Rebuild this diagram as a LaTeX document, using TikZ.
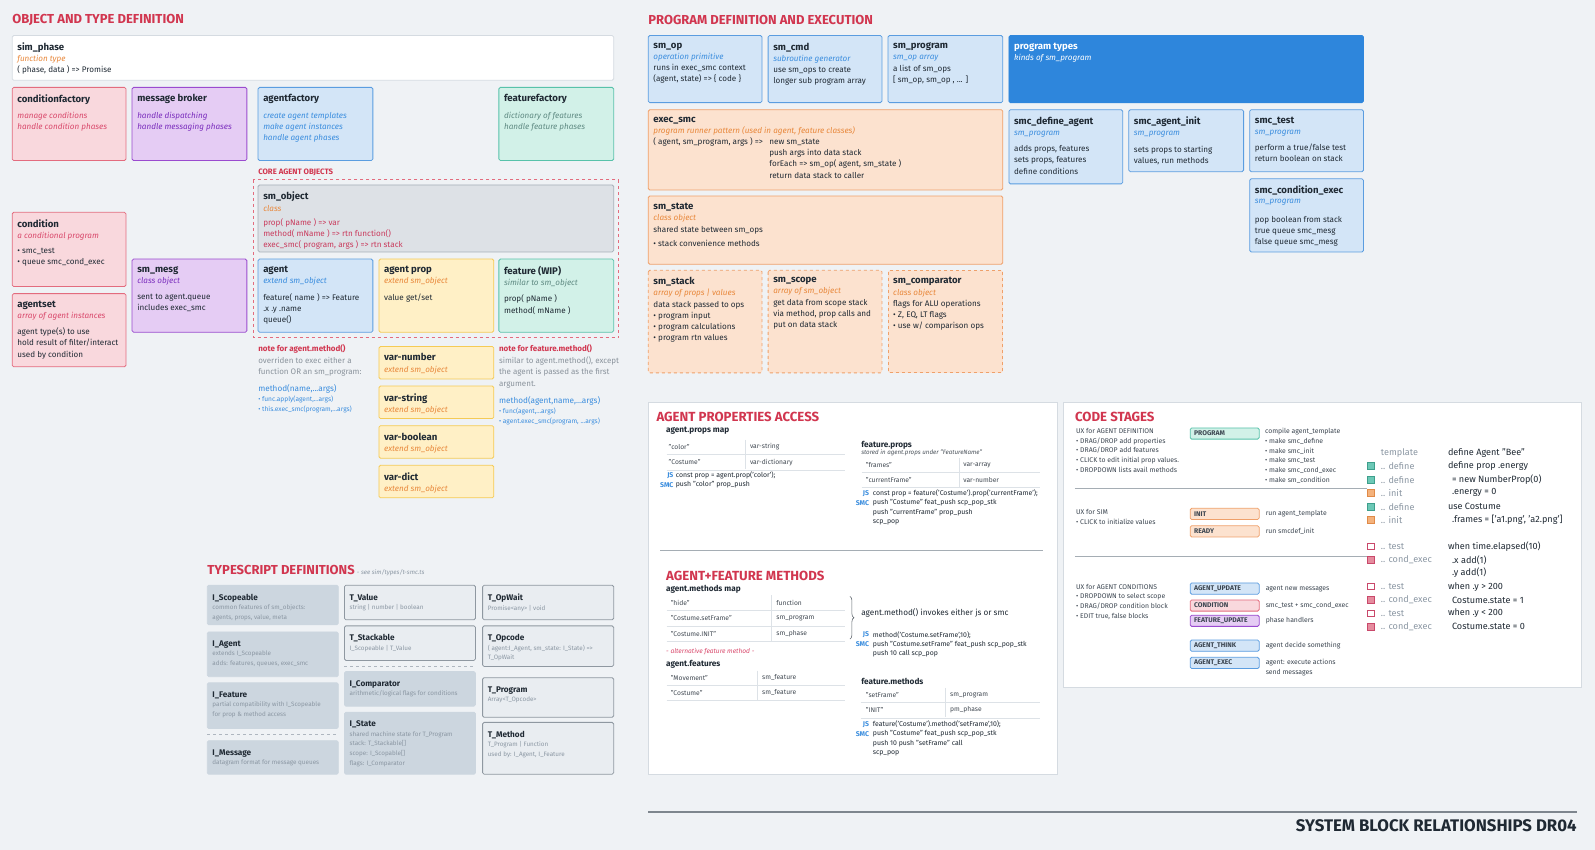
\documentclass[tikz,border=0pt]{standalone}
\usepackage{fontspec}
\setmainfont{Fira Sans}
\usetikzlibrary{positioning,decorations.pathreplacing}

\definecolor{bg}{HTML}{EFF2F5}
\definecolor{ink}{HTML}{1F2933}
\definecolor{titlered}{HTML}{D1364F}
\definecolor{pinkfill}{HTML}{F9D8DD}
\definecolor{pinkline}{HTML}{E36C7E}
\definecolor{pinksub}{HTML}{D9486B}
\definecolor{purplefill}{HTML}{E5CCF4}
\definecolor{purpleline}{HTML}{9A4BCF}
\definecolor{purplesub}{HTML}{7A2DBD}
\definecolor{bluefill}{HTML}{D3E5F7}
\definecolor{blueline}{HTML}{5B9DE0}
\definecolor{bluesub}{HTML}{3A8DDE}
\definecolor{tealfill}{HTML}{D2F1E8}
\definecolor{tealline}{HTML}{58C2AA}
\definecolor{tealsub}{HTML}{5F8A82}
\definecolor{yellowfill}{HTML}{FFF0C6}
\definecolor{yellowline}{HTML}{F5CB55}
\definecolor{orangefill}{HTML}{FCE2CF}
\definecolor{orangeline}{HTML}{EFA06A}
\definecolor{orangesub}{HTML}{E8873A}
\definecolor{greyfill}{HTML}{DDE1E6}
\definecolor{greyline}{HTML}{A7AFB8}
\definecolor{redbody}{HTML}{C93A5C}
\definecolor{progblue}{HTML}{2E86DC}
\definecolor{tsfill}{HTML}{CCD6DF}
\definecolor{tslite}{HTML}{E9EDF1}
\definecolor{tsline}{HTML}{8F98A1}
\definecolor{tsgrey}{HTML}{8B97A3}
\definecolor{notegrey}{HTML}{8A939C}
\definecolor{panelline}{HTML}{D5DBE1}
\definecolor{ruleink}{HTML}{7E868E}
\definecolor{stageink}{HTML}{3B4550}
\definecolor{sqdeffill}{HTML}{6CC8B6}
\definecolor{sqdefline}{HTML}{3E9F8C}
\definecolor{sqinitfill}{HTML}{F4B27C}
\definecolor{sqinitline}{HTML}{E08A48}
\definecolor{sqexecfill}{HTML}{E58C9E}
\definecolor{sqexecline}{HTML}{C9486A}

\tikzset{
  box/.style={draw, line width=0.8pt, rounded corners=1.5pt},
  whitebox/.style={box, draw=panelline, fill=white},
  pinkbox/.style={box, draw=pinkline, fill=pinkfill},
  purplebox/.style={box, draw=purpleline, fill=purplefill},
  bluebox/.style={box, draw=blueline, fill=bluefill},
  tealbox/.style={box, draw=tealline, fill=tealfill},
  yellowbox/.style={box, draw=yellowline, fill=yellowfill},
  orangebox/.style={box, draw=orangeline, fill=orangefill},
  orangedash/.style={orangebox, dashed},
  greybox/.style={box, draw=greyline, fill=greyfill},
  progbox/.style={box, draw=progblue, fill=progblue},
  tsfillbox/.style={box, draw=tsfill, fill=tsfill},
  tslinebox/.style={box, draw=tsline, fill=tslite},
  panel/.style={draw=panelline, fill=white, line width=0.8pt},
  cardtext/.style={inner sep=0pt, align=left, text=ink, font=\fontsize{8.1}{11.2}\selectfont},
  tstext/.style={inner sep=0pt, align=left, text=tsgrey, yshift=-1.5pt, font=\fontsize{6.3}{9.6}\selectfont},
  notetext/.style={inner sep=0pt, align=left, text=notegrey, font=\fontsize{8}{11.7}\selectfont},
  sectitle/.style={inner sep=0pt, anchor=west, text=titlered, font=\fontsize{13}{15}\selectfont\bfseries},
  paneltitle/.style={inner sep=0pt, anchor=west, text=titlered, font=\fontsize{13.2}{15}\selectfont\bfseries},
  coretag/.style={inner sep=0pt, anchor=west, text=titlered, font=\fontsize{7.8}{9}\selectfont\bfseries},
  coredash/.style={draw=pinkline, dashed, line width=0.8pt},
  tsdash/.style={draw=tsgrey!70, dashed, line width=0.8pt},
  tabhead/.style={inner sep=0pt, anchor=west, text=ink, font=\fontsize{8.2}{10}\selectfont\bfseries},
  cell/.style={inner sep=0pt, anchor=west, text=ink!85, font=\fontsize{6.7}{8}\selectfont},
  cellnote/.style={inner sep=0pt, anchor=west, text=ink!80, font=\fontsize{6.2}{7}\selectfont\itshape},
  tabrule/.style={draw=panelline!80, line width=0.6pt},
  code/.style={inner sep=0pt, anchor=west, text=ink, font=\fontsize{6.9}{8}\selectfont},
  jstag/.style={inner sep=0pt, anchor=east, text=bluesub, font=\fontsize{6.9}{8}\selectfont\bfseries},
  seprule/.style={draw=tsline!80, line width=0.9pt},
  stage/.style={draw, line width=0.8pt, rounded corners=1.5pt, anchor=west, minimum height=11.2pt,
    text width=61pt, inner xsep=4pt, inner ysep=0pt, align=left, text=stageink,
    font=\fontsize{6.8}{7}\selectfont\bfseries},
  stagetxt/.style={inner sep=0pt, align=left, text=stageink, font=\fontsize{6.85}{9.7}\selectfont},
  legsq/.style={draw, line width=0.8pt, minimum size=6.5pt, inner sep=0pt},
  legkey/.style={inner sep=0pt, anchor=west, text=tsgrey, font=\fontsize{9.1}{10}\selectfont},
  legcode/.style={inner sep=0pt, anchor=west, text=ink, font=\fontsize{9.1}{10}\selectfont},
  bracedraw/.style={draw=ink!70, line width=0.6pt, decorate, decoration={brace, amplitude=4pt}},
  bottomrule/.style={draw=ruleink, line width=1.6pt},
  bigtitle/.style={inner sep=0pt, anchor=east, text=ink, font=\fontsize{16.8}{18}\selectfont\bfseries}
}

\newcommand{\ttl}[1]{{\fontsize{9.6}{11.2}\selectfont\bfseries #1}}
\newcommand{\tsttl}[1]{{\fontsize{8.2}{9.6}\selectfont\bfseries\color{ink}#1}}
\newcommand{\subt}[2]{{\color{#1}\itshape #2}}
\newcommand{\card}[8]{%
  \draw[#2] (#4,#5) rectangle ++(#6,#7);
  \coordinate (#1) at (#4,#5);
  \node[#3, anchor=north west] (#1-txt) at ([xshift=5pt,yshift=-7pt]#1) {#8};
}

\begin{document}
\begin{tikzpicture}[x=1.016pt, y=-1.016pt]
  \useasboundingbox (0pt,0pt) rectangle (1595pt,-850pt);
  \fill[bg] (0pt,0pt) rectangle (1595pt,-850pt);

  % object and type definition
  \node[sectitle] (objtitle) at (12,20) {OBJECT AND TYPE DEFINITION};
  \card{simphase}{whitebox}{cardtext}{12}{35}{592}{44}{\ttl{sim\_phase}\\ \subt{orangesub}{function type}\\ ( phase, data ) => Promise}
  \card{condfactory}{pinkbox}{cardtext}{12}{86}{112}{72}{\ttl{conditionfactory}\\[5pt] \subt{pinksub}{manage conditions}\\ \subt{pinksub}{handle condition phases}}
  \card{msgbroker}{purplebox}{cardtext}{130}{86}{113}{72}{\ttl{message broker}\\[5pt] \subt{purplesub}{handle dispatching}\\ \subt{purplesub}{handle messaging phases}}
  \card{agentfactory}{bluebox}{cardtext}{254}{86}{113}{72}{\ttl{agentfactory}\\[5pt] \subt{bluesub}{create agent templates}\\ \subt{bluesub}{make agent instances}\\ \subt{bluesub}{handle agent phases}}
  \card{featfactory}{tealbox}{cardtext}{491}{86}{113}{72}{\ttl{featurefactory}\\[5pt] \subt{tealsub}{dictionary of features}\\ \subt{tealsub}{handle feature phases}}

  \node[coretag] (coretag) at (254,170) {CORE AGENT OBJECTS};
  \draw[coredash] (249,177) rectangle (609,332);
  \card{smobject}{greybox}{cardtext}{254}{182}{350}{66}{\ttl{sm\_object}\\ \subt{orangesub}{class}\\[3pt] \textcolor{redbody}{prop( pName ) => var}\\ \textcolor{redbody}{method( mName ) => rtn function()}\\ \textcolor{redbody}{exec\_smc( program, args ) => rtn stack}}
  \card{agent}{bluebox}{cardtext}{254}{255}{113}{72}{\ttl{agent}\\ \subt{bluesub}{extend sm\_object}\\[5pt] feature( name ) => Feature\\ .x .y .name\\ queue()}
  \card{agentprop}{yellowbox}{cardtext}{373}{255}{113}{72}{\ttl{agent prop}\\ \subt{orangesub}{extend sm\_object}\\[5pt] value get/set}
  \card{feature}{tealbox}{cardtext}{491}{255}{113}{72}{\ttl{feature (WIP)}\\ \subt{tealsub}{similar to sm\_object}\\[5pt] prop( pName )\\ method( mName )}
  \card{condition}{pinkbox}{cardtext}{12}{209}{112}{73}{\ttl{condition}\\ \subt{pinksub}{a conditional program}\\[4pt] • smc\_test\\ • queue smc\_cond\_exec}
  \card{agentset}{pinkbox}{cardtext}{12}{289}{112}{72}{\ttl{agentset}\\ \subt{pinksub}{array of agent instances}\\[5pt] agent type(s) to use\\ hold result of filter/interact\\ used by condition}
  \card{smmesg}{purplebox}{cardtext}{130}{255}{113}{72}{\ttl{sm\_mesg}\\ \subt{purplesub}{class object}\\[5pt] sent to agent.queue\\ includes exec\_smc}

  \node[notetext, anchor=north west] (agentnote) at (254,339) {\textcolor{titlered}{\bfseries note for agent.method()}\\ overriden to exec either a\\ function OR an sm\_program:\\[5pt] \textcolor{bluesub}{\fontsize{8.2}{10}\selectfont method(name,...args)}\\[-1.7pt] \textcolor{bluesub}{\fontsize{6.6}{8}\selectfont • func.apply(agent,...args)}\\[-1.7pt] \textcolor{bluesub}{\fontsize{6.6}{8}\selectfont • this.exec\_smc(program,...args)}};
  \foreach \v/\y in {number/341,string/380,boolean/419,dict/458} {
    \card{var\v}{yellowbox}{cardtext}{373}{\y}{113}{32}{\ttl{var-\v}\\ \subt{orangesub}{extend sm\_object}}
  }
  \node[notetext, anchor=north west] (featnote) at (491,339) {\textcolor{titlered}{\bfseries note for feature.method()}\\ similar to agent.method(), except\\ the agent is passed as the first\\ argument.\\[5pt] \textcolor{bluesub}{\fontsize{8.2}{10}\selectfont method(agent,name,...args)}\\[-1.7pt] \textcolor{bluesub}{\fontsize{6.6}{8}\selectfont • func(agent,...args)}\\[-1.7pt] \textcolor{bluesub}{\fontsize{6.6}{8}\selectfont • agent.exec\_smc(program, ...args)}};

  % typescript definitions
  \node[sectitle] (tstitle) at (204,562) {TYPESCRIPT DEFINITIONS\,{\fontsize{6.2}{7}\selectfont\mdseries\itshape\color{tsgrey}- see sim/types/t-smc.ts}};
  \card{iscopeable}{tsfillbox}{tstext}{204}{576}{129}{39}{\tsttl{I\_Scopeable}\\ common features of sm\_objects:\\ agents, props, value, meta}
  \card{iagent}{tsfillbox}{tstext}{204}{622}{129}{44}{\tsttl{I\_Agent}\\ extends I\_Scopeable\\ adds: features, queues, exec\_smc}
  \card{ifeature}{tsfillbox}{tstext}{204}{672}{129}{45}{\tsttl{I\_Feature}\\ partial compatibility with I\_Scopeable\\ for prop \& method access}
  \draw[tsdash] (204,722.5) -- (333,722.5);
  \card{imessage}{tsfillbox}{tstext}{204}{729}{129}{33}{\tsttl{I\_Message}\\ datagram format for message queues}
  \card{tvalue}{tslinebox}{tstext}{339}{576}{129}{34}{\tsttl{T\_Value}\\ string | number | boolean}
  \card{tstackable}{tslinebox}{tstext}{339}{616}{129}{34}{\tsttl{T\_Stackable}\\ I\_Scopeable | T\_Value}
  \draw[tsdash] (339,655.5) -- (468,655.5);
  \card{icomparator}{tsfillbox}{tstext}{339}{661}{129}{34}{\tsttl{I\_Comparator}\\ arithmetic/logical flags for conditions}
  \card{istate}{tsfillbox}{tstext}{339}{701}{129}{61}{\tsttl{I\_State}\\ shared machine state for T\_Program\\ stack: T\_Stackable[]\\ scope: I\_Scopable[]\\ flags: I\_Comparator}
  \card{topwait}{tslinebox}{tstext}{475}{576}{129}{34}{\tsttl{T\_OpWait}\\ Promise<any> | void}
  \card{topcode}{tslinebox}{tstext}{475}{616}{129}{40}{\tsttl{T\_Opcode}\\ ( agent:I\_Agent, sm\_state: I\_State) =>\\ T\_OpWait}
  \card{tprogram}{tslinebox}{tstext}{475}{667}{129}{39}{\tsttl{T\_Program}\\ Array<T\_Opcode>}
  \card{tmethod}{tslinebox}{tstext}{475}{711}{129}{51}{\tsttl{T\_Method}\\ T\_Program | Function\\ used by: I\_Agent, I\_Feature}

  % program definition and execution
  \node[sectitle] (progtitle) at (638,20) {PROGRAM DEFINITION AND EXECUTION};
  \card{smop}{bluebox}{cardtext}{638}{35}{112}{66}{\ttl{sm\_op}\\ \subt{bluesub}{operation primitive}\\ runs in exec\_smc context\\ (agent, state) => \{ code \}}
  \card{smcmd}{bluebox}{cardtext}{756}{35}{112}{66}{\ttl{sm\_cmd}\\ \subt{bluesub}{subroutine generator}\\ use sm\_ops to create\\ longer sub program array}
  \card{smprogram}{bluebox}{cardtext}{874}{35}{113}{66}{\ttl{sm\_program}\\ \subt{bluesub}{sm\_op array}\\ a list of sm\_ops\\ {[} sm\_op, sm\_op , ... ]}
  \card{progtypes}{progbox}{cardtext}{993}{35}{349}{66}{\textcolor{white}{\ttl{program types}}\\ \subt{white}{kinds of sm\_program}}
  \card{execsmc}{orangebox}{cardtext}{638}{108}{349}{79}{\ttl{exec\_smc}\\ \subt{orangesub}{program runner pattern (used in agent, feature classes)}\\ \makebox[116pt][l]{( agent, sm\_program, args ) =>}new sm\_state\\ \hspace*{116pt}push args into data stack\\ \hspace*{116pt}forEach => sm\_op( agent, sm\_state )\\ \hspace*{116pt}return data stack to caller}
  \card{smstate}{orangebox}{cardtext}{638}{193}{349}{67}{\ttl{sm\_state}\\ \subt{orangesub}{class object}\\ shared state between sm\_ops\\[3pt] • stack convenience methods}
  \card{smstack}{orangedash}{cardtext}{638}{266}{112}{101}{\ttl{sm\_stack}\\ \subt{orangesub}{array of props | values}\\ data stack passed to ops\\ • program input\\ • program calculations\\ • program rtn values}
  \card{smscope}{orangedash}{cardtext}{756}{266}{112}{101}{\ttl{sm\_scope}\\ \subt{orangesub}{array of sm\_object}\\ get data from scope stack\\ via method, prop calls and\\ put on data stack}
  \card{smcomp}{orangedash}{cardtext}{874}{266}{113}{101}{\ttl{sm\_comparator}\\ \subt{orangesub}{class object}\\ flags for ALU operations\\ • Z, EQ, LT flags\\ • use w/ comparison ops}
  \card{smcdefine}{bluebox}{cardtext}{993}{108}{112}{73}{\ttl{smc\_define\_agent}\\ \subt{bluesub}{sm\_program}\\[5pt] adds props, features\\ sets props, features\\ define conditions}
  \card{smcinit}{bluebox}{cardtext}{1111}{108}{113}{61}{\ttl{smc\_agent\_init}\\ \subt{bluesub}{sm\_program}\\[5pt] sets props to starting\\ values, run methods}
  \card{smctest}{bluebox}{cardtext}{1230}{108}{112}{61}{\ttl{smc\_test}\\ \subt{bluesub}{sm\_program}\\[5pt] perform a true/false test\\ return boolean on stack}
  \card{smccond}{bluebox}{cardtext}{1230}{176}{112}{72}{\ttl{smc\_condition\_exec}\\[-2pt] \subt{bluesub}{sm\_program}\\[8pt] pop boolean from stack\\ true queue smc\_mesg\\ false queue smc\_mesg}

  % agent properties access
  \draw[panel] (638,396) rectangle (1041,762);
  \node[paneltitle] (proptitle) at (646,410) {AGENT PROPERTIES ACCESS};
  \node[tabhead] (propsmap) at (655.5,424) {agent.props map};
  \foreach \k/\v [count=\i] in {"color"/var-string, "Costume"/var-dictionary} {
    \node[cell] (propkey\i) at (658,{425+15*\i}) {\k};
    \node[cell] (propval\i) at (738,{425+15*\i}) {\v};
    \draw[tabrule] (656,{432.5+15*\i}) -- (832,{432.5+15*\i});
  }
  \draw[tabrule] (734,433) -- (734,462);
  \node[jstag] (propjs) at (663,468) {JS};
  \node[code] (propjsc) at (665,468) {const prop = agent.prop('color');};
  \node[jstag] (propsmc) at (663,477) {SMC};
  \node[code] (propsmcc) at (665,477) {push "color" prop\_push};

  \node[tabhead] (fprops) at (847.5,438.5) {feature.props};
  \node[cellnote] (fpropsnote) at (847.5,445.5) {stored in agent.props under "FeatureName"};
  \foreach \k/\v [count=\i] in {"frames"/var-array, "currentFrame"/var-number} {
    \node[cell] (fpkey\i) at (852,{443.5+14.3*\i}) {\k};
    \node[cell] (fpval\i) at (948,{443.5+14.3*\i}) {\v};
    \draw[tabrule] (848,{450.7+14.3*\i}) -- (1024,{450.7+14.3*\i});
  }
  \draw[tabrule] (944,451) -- (944,479);
  \node[jstag] (fpjs) at (855.5,486) {JS};
  \node[code] (fpjsc) at (859,486) {const prop = feature('Costume').prop('currentFrame');};
  \node[jstag] (fpsmc) at (855.5,495) {SMC};
  \node[code] (fpsmcc) at (859,495) {push "Costume" feat\_push scp\_pop\_stk};
  \node[code] (fpline3) at (859,504.6) {push "currentFrame" prop\_push};
  \node[code] (fpline4) at (859,513.8) {scp\_pop};
  \draw[seprule] (650,541.5) -- (1026.5,541.5);

  % agent+feature methods
  \node[paneltitle] (methtitle) at (655.5,566.5) {AGENT+FEATURE METHODS};
  \node[tabhead] (methmap) at (655.5,580) {agent.methods map};
  \foreach \k/\v [count=\i] in {"hide"/function, "Costume.setFrame"/sm\_program, "Costume.INIT"/sm\_phase} {
    \node[cell] (methkey\i) at (660,{578.5+15.1*\i}) {\k};
    \node[cell] (methval\i) at (764,{578.5+15.1*\i}) {\v};
    \draw[tabrule] (656,{586+15.1*\i}) -- (832,{586+15.1*\i});
  }
  \draw[tabrule] (759.5,586) -- (759.5,631);
  \coordinate (brtop) at (836.5,587);
  \coordinate (brbot) at (836.5,629);
  \draw[bracedraw] (brtop) -- (brbot);
  \node[inner sep=0pt, anchor=west, text=ink, font=\fontsize{8.2}{9}\selectfont] (invokes) at (847.5,603) {agent.method() invokes either js or smc};
  \node[jstag] (methjs) at (855.5,625) {JS};
  \node[code] (methjsc) at (859,625) {method('Costume.setFrame',10);};
  \node[jstag] (methsmc) at (855.5,634) {SMC};
  \node[code] (methsmcc) at (859,634) {push "Costume.setFrame" feat\_push scp\_pop\_stk};
  \node[code] (methline3) at (859,643.4) {push 10 call scp\_pop};
  \node[inner sep=0pt, anchor=west, text=pinksub, font=\fontsize{6.6}{8}\selectfont\itshape] (altnote) at (655.5,641.7) {- alternative feature method -};
  \node[tabhead] (featlist) at (655.5,654) {agent.features};
  \foreach \k/\v [count=\i] in {"Movement"/sm\_feature, "Costume"/sm\_feature} {
    \node[cell] (flkey\i) at (660,{652+15*\i}) {\k};
    \node[cell] (flval\i) at (750,{652+15*\i}) {\v};
    \draw[tabrule] (656,{659.5+15*\i}) -- (832,{659.5+15*\i});
  }
  \draw[tabrule] (745,660) -- (745,689);
  \node[tabhead] (fmeth) at (847.5,671) {feature.methods};
  \foreach \k/\v [count=\i] in {"setFrame"/sm\_program, "INIT"/pm\_phase} {
    \node[cell] (fmkey\i) at (852,{669+15*\i}) {\k};
    \node[cell] (fmval\i) at (935,{669+15*\i}) {\v};
    \draw[tabrule] (847,{676.5+15*\i}) -- (1024,{676.5+15*\i});
  }
  \draw[tabrule] (930,677) -- (930,706);
  \node[jstag] (fmjs) at (855.5,713) {JS};
  \node[code] (fmjsc) at (859,713) {feature('Costume').method('setFrame',10);};
  \node[jstag] (fmsmc) at (855.5,722.4) {SMC};
  \node[code] (fmsmcc) at (859,722.4) {push "Costume" feat\_push scp\_pop\_stk};
  \node[code] (fmline3) at (859,732) {push 10 push "setFrame" call};
  \node[code] (fmline4) at (859,741.8) {scp\_pop};

  % code stages
  \draw[panel] (1047,396) rectangle (1556,677);
  \node[paneltitle] (stagetitle) at (1058,410) {CODE STAGES};
  \node[stagetxt, anchor=north west] (uxdef) at (1059,421.5) {UX for AGENT DEFINITION\\ • DRAG/DROP add properties\\ • DRAG/DROP add features\\ • CLICK to edit initial prop values.\\ • DROPDOWN lists avail methods};
  \node[stage, fill=tealfill, draw=tealline] (stageprog) at (1171,426.7) {PROGRAM};
  \node[stagetxt, anchor=north west] (progdesc) at (1245,421.5) {compile agent\_template\\ • make smc\_define\\ • make smc\_init\\ • make smc\_test\\ • make smc\_cond\_exec\\ • make sm\_condition};
  \draw[seprule] (1058,481) -- (1345,481);
  \node[stagetxt, anchor=north west] (uxsim) at (1059,501) {UX for SIM\\ • CLICK to initialize values};
  \draw[seprule] (1058,548) -- (1345,548);
  \node[stagetxt, anchor=north west] (uxcond) at (1059,574.5) {UX for AGENT CONDITIONS\\ • DROPDOWN to select scope\\ • DRAG/DROP condition block\\ • EDIT true, false blocks};
  \foreach \y/\fc/\dc/\lab/\desc [count=\i] in {505.8/orangefill/orangeline/INIT/run agent\_template, 523/orangefill/orangeline/READY/run smcdef\_init, 579.3/bluefill/blueline/AGENT\_UPDATE/agent new messages, 596/pinkfill/pinkline/CONDITION/smc\_test + smc\_cond\_exec, 611/purplefill/purpleline/FEATURE\_UPDATE/phase handlers, 635.5/bluefill/blueline/AGENT\_THINK/agent decide something, 652.5/bluefill/blueline/AGENT\_EXEC/agent: execute actions} {
    \node[stage, fill=\fc, draw=\dc] (stage\i) at (1171,\y) {\lab};
    \node[stagetxt, right=6pt of stage\i] (stagedesc\i) {\desc};
  }
  \node[stagetxt, anchor=north west] (stagedesc8) at ([yshift=-2.5pt]stagedesc7.south west) {send messages};

  \node[legkey] (legtpl) at (1359,445.5) {template};
  \node[legcode] (legtplc) at (1425,445.5) {define Agent "Bee"};
  \foreach \y/\fc/\dc/\lab/\txt [count=\i] in {458.7/sqdeffill/sqdefline/define/define prop .energy, 472.4/sqdeffill/sqdefline/define/{\hspace*{4pt}= new NumberProp(0)}, 485/sqinitfill/sqinitline/init/{\hspace*{4pt}.energy = 0}, 498.7/sqdeffill/sqdefline/define/use Costume, 511.8/sqinitfill/sqinitline/init/{\hspace*{4pt}.frames = ['a1.png', 'a2.png']}, 538/white/sqexecline/test/when time.elapsed(10), 551/sqexecfill/sqexecline/cond\_exec/{\hspace*{4pt}.x add(1)}, 577.4/white/sqexecline/test/when .y > 200, 590.6/sqexecfill/sqexecline/cond\_exec/{\hspace*{4pt}Costume.state = 1}, 603.7/white/sqexecline/test/when .y < 200, 616.8/sqexecfill/sqexecline/cond\_exec/{\hspace*{4pt}Costume.state = 0}} {
    \node[legsq, fill=\fc, draw=\dc] (legsq\i) at (1349.5,\y) {};
    \node[legkey] (legkey\i) at (1359,\y) {.. \lab};
    \node[legcode] (legcode\i) at (1425,\y) {\txt};
  }
  \node[legcode] (legyadd) at (1425,564) {\hspace*{4pt}.y add(1)};

  % footer
  \coordinate (rulel) at (638,799);
  \coordinate (ruler) at (1552,799);
  \draw[bottomrule] (rulel) -- (ruler);
  \node[bigtitle] (sysname) at (1552,813) {SYSTEM BLOCK RELATIONSHIPS DR04};
\end{tikzpicture}
\end{document}
